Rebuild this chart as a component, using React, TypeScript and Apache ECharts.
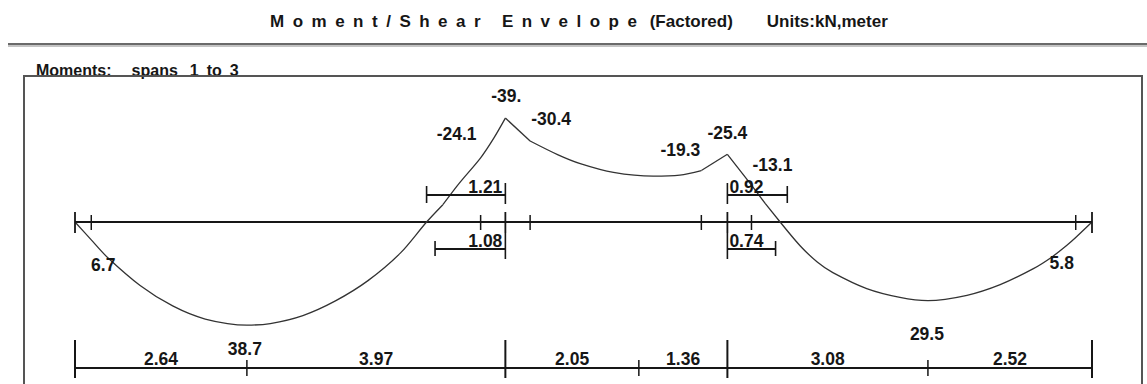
import React, { useEffect, useRef } from "react";
import * as echarts from "echarts";

// ---------- texts ----------
const TITLE =
  "M\u2002o\u2002m\u2002e\u2002n\u2002t\u2002/\u2002S\u2002h\u2002e\u2002a\u2002r\u2003\u2005E\u2002n\u2002v\u2002e\u2002l\u2002o\u2002p\u2002e\u2002\u2005(Factored)\u2003\u2003Units:kN,meter";
const SUBTITLE = "Moments:\u2003\u2005spans\u2002\u20051\u2002to\u20023";

// ---------- geometry of the beam (m) ----------
const BEAM_LENGTH = 15.62;
const SUPPORTS = [0, 6.61, 10.02, 15.62];
const FACES = [0.25, 6.23, 6.99, 9.62, 10.39, 15.37];

// ---------- moment envelope (x in m, M in kN·m; positive drawn below) ----------
const SPAN1_POS = [
  [0, 0], [0.25, 6.7], [0.5, 13.3], [1.0, 23.8], [1.5, 31.5], [2.0, 36.4],
  [2.64, 38.7], [3.0, 38.1], [3.5, 35.1], [4.0, 29.6], [4.5, 22.0],
  [5.0, 11.6], [5.4, 0], [5.65, -6.5],
];
const SPAN1_NEG = [[5.65, -6.5], [5.9, -14.5], [6.23, -24.1], [6.43, -31.4], [6.61, -39.0]];
const SPAN2_LEFT = [[6.61, -39.0], [6.99, -30.4]];
const SPAN2_MID = [
  [6.99, -30.4], [7.42, -25.2], [7.76, -21.9], [8.27, -18.6], [8.88, -17.2],
  [9.29, -17.6], [9.62, -19.3],
];
const SPAN2_RIGHT = [[9.62, -19.3], [10.02, -25.4]];
const SPAN3_NEG = [[10.02, -25.4], [10.39, -13.8], [10.6, -7.0], [10.83, 0]];
const SPAN3_POS = [
  [10.83, 0], [11.14, 9.0], [11.4, 15.0], [11.64, 19.0], [12.16, 25.0],
  [12.67, 28.3], [13.1, 29.5], [13.7, 27.5], [14.21, 23.5], [14.72, 17.5],
  [15.0, 13.2], [15.23, 8.8], [15.37, 5.8], [15.62, 0],
];
const SEGMENTS = [
  { data: SPAN1_POS, smooth: 0.3 },
  { data: SPAN1_NEG, smooth: 0.3 },
  { data: SPAN2_LEFT, smooth: 0 },
  { data: SPAN2_MID, smooth: 0.3 },
  { data: SPAN2_RIGHT, smooth: 0 },
  { data: SPAN3_NEG, smooth: 0 },
  { data: SPAN3_POS, smooth: 0.3 },
];

// ---------- bottom dimension chain ----------
const DIM_STATIONS = [0, 2.64, 6.61, 8.66, 10.02, 13.1, 15.62];
const DIM_LABELS = ["2.64", "3.97", "2.05", "1.36", "3.08", "2.52"];

// ---------- brackets near interior supports ----------
const BRACKET_FROM = [5.4, 5.53, 10.02, 10.02];
const BRACKET_TO = [6.61, 6.61, 10.94, 10.76];
const BRACKET_LABELS = ["1.21", "1.08", "0.92", "0.74"];

// ---------- moment value labels ----------
const MOMENT_X = [0.25, 2.64, 6.23, 6.61, 6.99, 9.62, 10.02, 10.39, 13.1, 15.37];
const MOMENT_VALUES = [6.7, 38.7, -24.1, -39.0, -30.4, -19.3, -25.4, -13.1, 29.5, 5.8];
const MOMENT_LABELS = ["6.7", "38.7", "-24.1", "-39.", "-30.4", "-19.3", "-25.4", "-13.1", "29.5", "5.8"];

// layout only (pixel offsets of labels from their points)
const MOMENT_LABEL_OFFSETS = [
  [12, 25], [-2, 24], [-24, -24], [1, -22], [21, -22],
  [-21, -21], [0, -21], [21, -22], [-1, 33], [-14, 26],
];
const BRACKET_SIDE = [-1, 1, -1, 1];
const BRACKET_ALIGN = ["right", "right", "left", "left"];

const FONT = '"Liberation Sans", Arial, Helvetica, sans-serif';
const INK = "#161616";

export default function App() {
  const ref = useRef<HTMLDivElement>(null);

  useEffect(() => {
    if (!ref.current) return;
    const chart = echarts.init(ref.current, undefined, { renderer: "svg" });

    const lineSeries = SEGMENTS.map((s) => ({
      type: "line",
      data: s.data,
      smooth: s.smooth,
      symbol: "none",
      silent: true,
      lineStyle: { color: "#333333", width: 1.3 },
      z: 3,
    }));

    const renderAnnotations = (_params: any, api: any) => {
      const children: any[] = [];
      const c = (x: number, m: number) => api.coord([x, m]);
      const beamY = c(0, 0)[1];
      const ln = (x1: number, y1: number, x2: number, y2: number, w = 1.8) => ({
        type: "line",
        shape: { x1, y1, x2, y2 },
        style: { stroke: INK, lineWidth: w },
      });
      const txt = (text: string, x: number, y: number, align = "center", size = 17.5) => ({
        type: "text",
        style: {
          text,
          x,
          y,
          fill: INK,
          font: `bold ${size}px ${FONT}`,
          textAlign: align,
          textVerticalAlign: "middle",
          align,
          verticalAlign: "middle",
        },
      });

      // beam ticks
      SUPPORTS.forEach((x) => {
        const p = c(x, 0);
        children.push(ln(p[0], beamY - 10, p[0], beamY + 11, 1.8));
      });
      FACES.forEach((x) => {
        const p = c(x, 0);
        children.push(ln(p[0], beamY - 7, p[0], beamY + 8, 1.5));
      });

      // bottom dimension chain
      const dimY = beamY + 146;
      const d0 = c(DIM_STATIONS[0], 0)[0];
      const d1 = c(DIM_STATIONS[DIM_STATIONS.length - 1], 0)[0];
      children.push(ln(d0, dimY, d1, dimY, 2));
      DIM_STATIONS.forEach((x) => {
        const px = c(x, 0)[0];
        const tall = SUPPORTS.indexOf(x) >= 0;
        children.push(tall ? ln(px, dimY - 28, px, dimY + 10, 2) : ln(px, dimY - 8, px, dimY + 8, 1.5));
      });
      DIM_LABELS.forEach((label, i) => {
        const a = c(DIM_STATIONS[i], 0)[0];
        const b = c(DIM_STATIONS[i + 1], 0)[0];
        children.push(txt(label, (a + b) / 2, dimY - 9));
      });

      // brackets
      BRACKET_LABELS.forEach((label, i) => {
        const side = BRACKET_SIDE[i];
        const y = side < 0 ? beamY - 27 : beamY + 27;
        const a = c(BRACKET_FROM[i], 0)[0];
        const b = c(BRACKET_TO[i], 0)[0];
        children.push(ln(a, y, b, y, 1.8));
        const supportX = BRACKET_ALIGN[i] === "right" ? b : a;
        const farX = BRACKET_ALIGN[i] === "right" ? a : b;
        if (side < 0) {
          children.push(ln(supportX, y - 12, supportX, y + 9, 1.6));
          children.push(ln(farX, y - 9, farX, y + 8, 1.6));
        } else {
          children.push(ln(supportX, y - 16, supportX, y + 10, 1.6));
          children.push(ln(farX, y - 8, farX, y + 7, 1.6));
        }
        const tx = BRACKET_ALIGN[i] === "right" ? supportX - 3 : supportX + 2;
        children.push(txt(label, tx, y - 8, BRACKET_ALIGN[i]));
      });

      // moment labels
      MOMENT_LABELS.forEach((label, i) => {
        const p = c(MOMENT_X[i], MOMENT_VALUES[i]);
        const o = MOMENT_LABEL_OFFSETS[i];
        children.push(txt(label, p[0] + o[0], p[1] + o[1]));
      });

      return { type: "group", children };
    };

    chart.setOption({
      animation: false,
      backgroundColor: "#ffffff",
      grid: { left: 75, right: 55, top: 88.75, bottom: 2.1, containLabel: false },
      xAxis: { type: "value", min: 0, max: BEAM_LENGTH, show: false },
      yAxis: { type: "value", min: -50, max: 60, inverse: true, show: false },
      graphic: [
        {
          type: "text",
          left: 270,
          top: 13,
          style: { text: TITLE, fill: INK, font: `bold 17px ${FONT}` },
        },
        { type: "rect", shape: { x: 8, y: 43, width: 1139, height: 2 }, style: { fill: "#6a6a6a" } },
        { type: "rect", shape: { x: 8, y: 45, width: 1139, height: 2 }, style: { fill: "#c4c4c4" } },
        {
          type: "text",
          left: 36,
          top: 62,
          style: { text: SUBTITLE, fill: INK, font: `bold 16px ${FONT}` },
        },
        {
          type: "polyline",
          shape: { points: [[24, 384], [24, 76], [1142, 76], [1142, 384]] },
          style: { stroke: "#555555", lineWidth: 2, fill: null },
        },
      ],
      series: [
        {
          type: "line",
          data: [[0, 0], [BEAM_LENGTH, 0]],
          symbol: "none",
          silent: true,
          lineStyle: { color: INK, width: 2 },
          z: 2,
        },
        ...lineSeries,
        {
          type: "custom",
          coordinateSystem: "cartesian2d",
          data: [[0, 0]],
          clip: false,
          silent: true,
          renderItem: renderAnnotations,
          z: 4,
        },
      ],
    });

    return () => chart.dispose();
  }, []);

  return (
    <div
      ref={ref}
      style={{ position: "fixed", left: 0, top: 0, width: 1147, height: 384, background: "#fff" }}
    />
  );
}
